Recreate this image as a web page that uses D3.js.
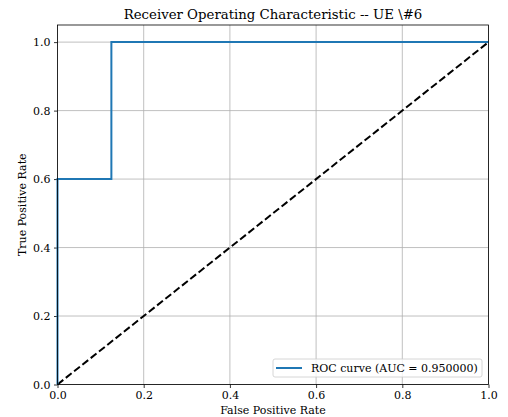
<!DOCTYPE html>
<html>
<head>
<meta charset="utf-8">
<script src="https://cdn.jsdelivr.net/npm/d3@7"></script>
<style>
  body { margin: 0; background: #fff; }
  text { font-family: "DejaVu Serif", serif; }
</style>
</head>
<body>
<div id="chart"></div>
<script>
// ROC data
var fpr = [0, 0, 0.125, 0.125, 1];
var tpr = [0, 0.6, 0.6, 1, 1];
var chanceX = [0, 1];
var chanceY = [0, 1];
var tickValues = [0, 0.2, 0.4, 0.6, 0.8, 1.0];
var aucLabel = "ROC curve (AUC = 0.950000)";

var svgWidth = 508;
var svgHeight = 417;

var margin = { top: 25, right: 19.5, bottom: 32.5, left: 57.5 };

var width = svgWidth - margin.left - margin.right;
var height = svgHeight - margin.top - margin.bottom;

var svg = d3.select("#chart")
  .append("svg")
  .attr("width", svgWidth)
  .attr("height", svgHeight);

var chartGroup = svg.append("g")
  .attr("transform", `translate(${margin.left}, ${margin.top})`);

var x = d3.scaleLinear().domain([0, 1]).range([0, width]);
var y = d3.scaleLinear().domain([0, 1.05]).range([height, 0]);

// grid
chartGroup.append("g").selectAll("line")
  .data(tickValues)
  .enter().append("line")
  .attr("x1", d => x(d)).attr("x2", d => x(d))
  .attr("y1", 0).attr("y2", height)
  .attr("stroke", "#b0b0b0").attr("stroke-width", 0.8);

chartGroup.append("g").selectAll("line")
  .data(tickValues)
  .enter().append("line")
  .attr("y1", d => y(d)).attr("y2", d => y(d))
  .attr("x1", 0).attr("x2", width)
  .attr("stroke", "#b0b0b0").attr("stroke-width", 0.8);

// axes
var bottomAxis = d3.axisBottom(x).tickValues(tickValues).tickFormat(d3.format(".1f")).tickSize(3.5).tickPadding(3.5);
var leftAxis = d3.axisLeft(y).tickValues(tickValues).tickFormat(d3.format(".1f")).tickSize(3.5).tickPadding(3.5);

var xAxis = chartGroup.append("g")
  .attr("transform", `translate(0, ${height})`)
  .call(bottomAxis);
var yAxis = chartGroup.append("g").call(leftAxis);

[xAxis, yAxis].forEach(function(a) {
  a.select(".domain").remove();
  a.selectAll("text").style("font-size", "11px").attr("fill", "#000");
  a.selectAll("line").attr("stroke", "#000").attr("stroke-width", 0.8);
});

// chance line
var line = d3.line().x(d => x(d[0])).y(d => y(d[1]));

chartGroup.append("path")
  .datum(chanceX.map((v, i) => [v, chanceY[i]]))
  .attr("d", line)
  .attr("fill", "none")
  .attr("stroke", "#000")
  .attr("stroke-width", 2)
  .attr("stroke-dasharray", "7.4,3.2");

// ROC curve
chartGroup.append("path")
  .datum(fpr.map((v, i) => [v, tpr[i]]))
  .attr("d", line)
  .attr("fill", "none")
  .attr("stroke", "#1f77b4")
  .attr("stroke-width", 2);

// frame
chartGroup.append("rect")
  .attr("width", width).attr("height", height)
  .attr("fill", "none").attr("stroke", "#000").attr("stroke-width", 0.8);

// legend
var legend = chartGroup.append("g")
  .attr("transform", `translate(${273 - margin.left}, ${359 - margin.top})`);
legend.append("rect")
  .attr("width", 209).attr("height", 18)
  .attr("rx", 2)
  .attr("fill", "#fff").attr("fill-opacity", 0.8)
  .attr("stroke", "#ccc").attr("stroke-width", 0.8);
legend.append("line")
  .attr("x1", 3).attr("x2", 29).attr("y1", 9).attr("y2", 9)
  .attr("stroke", "#1f77b4").attr("stroke-width", 2);
legend.append("text")
  .attr("x", 38).attr("y", 13)
  .style("font-size", "11px")
  .text(aucLabel);

// labels
svg.append("text")
  .attr("x", margin.left + width / 2).attr("y", 19)
  .attr("text-anchor", "middle")
  .style("font-size", "13.3px")
  .text("Receiver Operating Characteristic -- UE \\#6");

svg.append("text")
  .attr("x", margin.left + width / 2).attr("y", 414)
  .attr("text-anchor", "middle")
  .style("font-size", "11px")
  .text("False Positive Rate");

svg.append("text")
  .attr("transform", "rotate(-90)")
  .attr("x", -(margin.top + height / 2)).attr("y", 26)
  .attr("text-anchor", "middle")
  .style("font-size", "11px")
  .text("True Positive Rate");
</script>
</body>
</html>
